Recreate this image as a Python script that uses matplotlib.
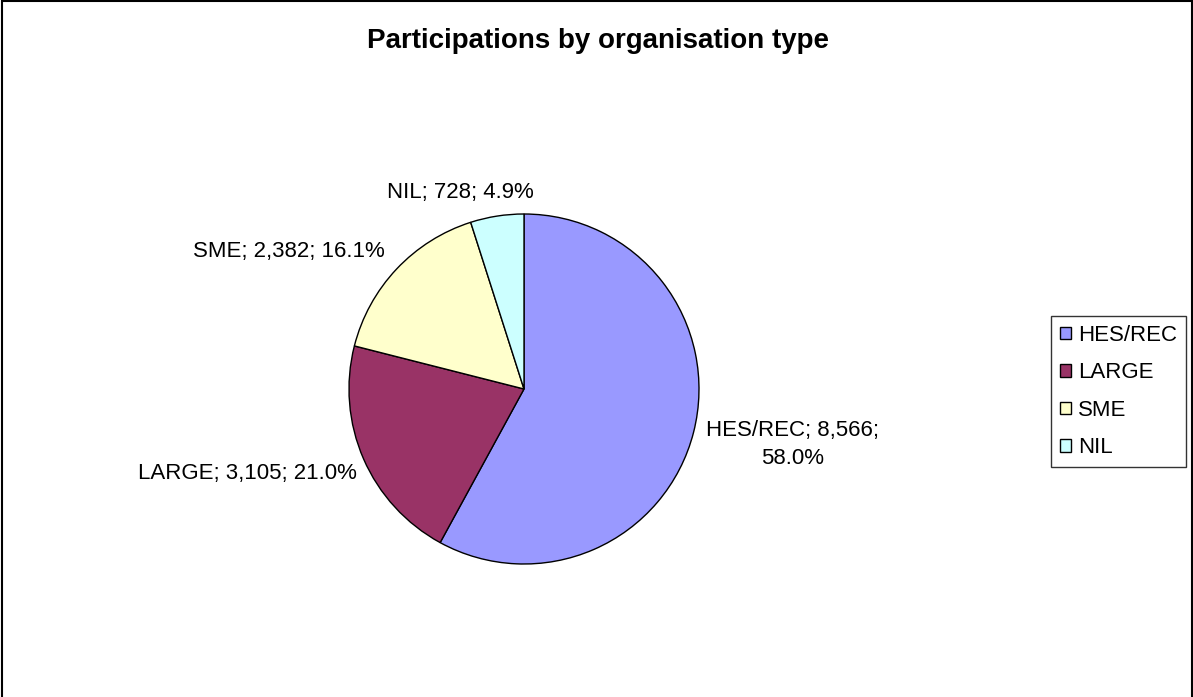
import matplotlib.pyplot as plt
from matplotlib.patches import Rectangle

plt.rcParams['font.family'] = ['Liberation Sans', 'DejaVu Sans']

categories = ['HES/REC', 'LARGE', 'SME', 'NIL']
values = [8566, 3105, 2382, 728]
colors = ['#9999FF', '#993366', '#FFFFCC', '#CCFFFF']

# label anchors in pie-radius units (layout only)
label_pos = [(1.537, -0.429), (-1.583, -0.514), (-1.343, 0.754), (-0.366, 1.091)]

W, H = 1193, 697
fig = plt.figure(figsize=(W / 100, H / 100), dpi=100)

cx, cy, r = 524, 389, 175
ax = fig.add_axes([(cx - r) / W, (H - cy - r) / H, 2 * r / W, 2 * r / H])
wedges, _ = ax.pie(values, colors=colors, startangle=90, counterclock=False,
                   radius=1, wedgeprops=dict(edgecolor='black', linewidth=1.0))
ax.set_xlim(-1, 1)
ax.set_ylim(-1, 1)
ax.axis('off')

total = sum(values)
for name, v, (lx, ly) in zip(categories, values, label_pos):
    pct = 100 * v / total
    txt = f'{name}; {v:,}; {pct:.1f}%'
    if name == 'HES/REC':
        txt = f'{name}; {v:,};\n{pct:.1f}%'
    ax.text(lx, ly, txt, ha='center', va='baseline', fontsize=16,
            clip_on=False, linespacing=1.45)

fig.text(598 / W, 1 - 48 / H, 'Participations by organisation type',
         ha='center', va='baseline', fontsize=20, fontweight='bold')

handles = [Rectangle((0, 0), 1, 1, facecolor=c, edgecolor='black', linewidth=1.0)
           for c in colors]
leg = fig.legend(handles, categories, loc='upper left',
                 bbox_to_anchor=(1051 / W, 1 - 316 / H), bbox_transform=fig.transFigure,
                 borderaxespad=0, fontsize=16, frameon=True, fancybox=False,
                 handlelength=0.5, handleheight=0.5, handletextpad=0.3,
                 labelspacing=0.74, borderpad=0.4)
leg.get_frame().set_edgecolor('black')
leg.get_frame().set_linewidth(1.0)

fig.patches.append(Rectangle((1.5 / W, -0.05), 1 - 3 / W, 1.05 - 1 / H,
                             transform=fig.transFigure, fill=False,
                             edgecolor='black', linewidth=1.5))

fig.savefig('out.png', dpi=100)
